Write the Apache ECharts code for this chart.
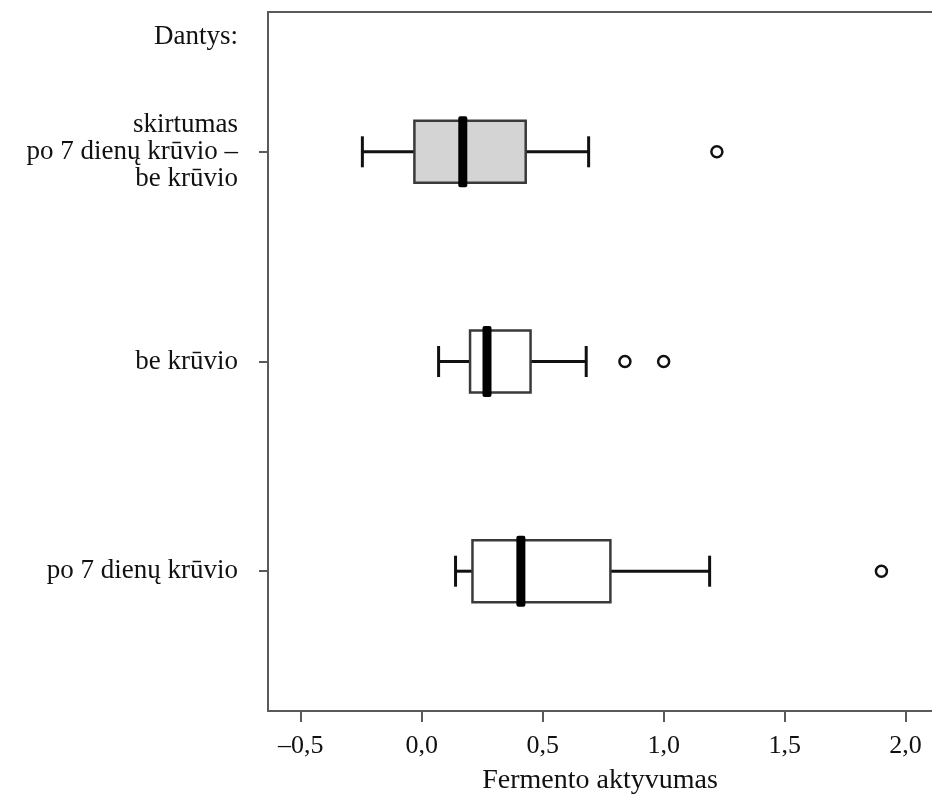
<!DOCTYPE html>
<html>
<head>
<meta charset="utf-8">
<script src="https://cdn.jsdelivr.net/npm/echarts@6/dist/echarts.min.js"></script>
<style>
  html, body { margin: 0; padding: 0; background: #fff; }
  #box-chart { width: 932px; height: 795px; }
</style>
</head>
<body>
<div id="box-chart"></div>
<script>
// groups, bottom to top
const groups = ['po 7 dienų krūvio', 'be krūvio', 'skirtumas\npo 7 dienų krūvio –\nbe krūvio']
// [min whisker, Q1, median, Q3, max whisker]
const boxStats = [
  [0.14, 0.21, 0.41, 0.78, 1.19],
  [0.07, 0.20, 0.27, 0.45, 0.68],
  [-0.245, -0.03, 0.17, 0.43, 0.69]
]
const outliers = [[1.90], [0.84, 1.00], [1.22]]
const xTicks = [-0.5, 0, 0.5, 1.0, 1.5, 2.0]
const boxFills = ['#ffffff', '#ffffff', '#d4d4d4']

// spread the groups along the axis with empty slots between them
const slots = ['', '']
groups.forEach(g => { slots.push(g, '', '') })

const fmt = v => (v < 0 ? '–' : '') + Math.abs(v).toFixed(1).replace('.', ',')
const serif = '"Liberation Serif", "DejaVu Serif", serif'
const axisColor = '#5a5a5a'

const myChart = echarts.init(document.getElementById('box-chart'))
myChart.setOption({
  animation: false,
  textStyle: { fontFamily: serif },
  grid: [{
    left: 268,
    right: 0,
    top: 12,
    bottom: 84,
    outerBoundsMode: 'none'
  }],
  xAxis: [{
    type: 'value',
    min: -0.635,
    max: 2.109,
    name: 'Fermento aktyvumas',
    nameLocation: 'middle',
    nameGap: 56,
    nameTextStyle: { fontFamily: serif, fontSize: 28, color: '#111' },
    axisLine: { show: true, onZero: false, lineStyle: { color: axisColor, width: 2 } },
    axisTick: { show: true, length: 11, lineStyle: { color: axisColor, width: 2 }, customValues: xTicks },
    axisLabel: {
      customValues: xTicks,
      formatter: fmt,
      margin: 22,
      fontFamily: serif,
      fontSize: 26,
      color: '#111'
    },
    splitLine: { show: false }
  }, {
    // top frame line
    type: 'value',
    position: 'top',
    min: -0.635,
    max: 2.109,
    axisLine: { show: true, onZero: false, lineStyle: { color: axisColor, width: 2 } },
    axisTick: { show: false },
    axisLabel: { show: false },
    splitLine: { show: false }
  }],
  yAxis: [{
    type: 'category',
    data: slots,
    boundaryGap: false,
    name: 'Dantys:',
    nameLocation: 'end',
    nameGap: -25,
    nameTextStyle: {
      fontFamily: serif,
      fontSize: 27,
      color: '#111',
      align: 'right',
      verticalAlign: 'middle',
      padding: [0, 30, 0, 0]
    },
    axisLine: { onZero: false, lineStyle: { color: axisColor, width: 2 } },
    axisTick: {
      length: 9,
      interval: (i, v) => v !== '',
      lineStyle: { color: axisColor, width: 2 }
    },
    axisLabel: {
      interval: (i, v) => v !== '',
      margin: 30,
      fontFamily: serif,
      fontSize: 27,
      lineHeight: 27,
      align: 'right',
      color: '#111'
    },
    splitLine: { show: false }
  }],
  series: [{
    type: 'custom',
    name: 'box',
    encode: { x: [1, 2, 3, 4, 5], y: 0 },
    data: boxStats.map((s, i) => [groups[i], ...s]),
    renderItem: (params, api) => {
      const cy = api.coord([0, api.value(0)])[1]
      const px = d => api.coord([api.value(d), api.value(0)])[0]
      const lo = px(1), q1 = px(2), med = px(3), q3 = px(4), hi = px(5)
      const boxH = 62, capH = 31, medH = 71, medW = 9
      const whisker = { stroke: '#111', lineWidth: 3 }
      return {
        type: 'group',
        children: [
          { type: 'line', shape: { x1: lo, y1: cy, x2: q1, y2: cy }, style: whisker },
          { type: 'line', shape: { x1: q3, y1: cy, x2: hi, y2: cy }, style: whisker },
          { type: 'line', shape: { x1: lo, y1: cy - capH / 2, x2: lo, y2: cy + capH / 2 }, style: whisker },
          { type: 'line', shape: { x1: hi, y1: cy - capH / 2, x2: hi, y2: cy + capH / 2 }, style: whisker },
          {
            type: 'rect',
            shape: { x: q1, y: cy - boxH / 2, width: q3 - q1, height: boxH },
            style: { fill: boxFills[params.dataIndex], stroke: '#3a3a3a', lineWidth: 2.5 }
          },
          {
            type: 'rect',
            shape: { x: med - medW / 2, y: cy - medH / 2, width: medW, height: medH, r: 2 },
            style: { fill: '#000' }
          }
        ]
      }
    }
  }, {
    type: 'scatter',
    name: 'outliers',
    symbol: 'circle',
    symbolSize: 11,
    itemStyle: { color: '#fff', borderColor: '#111', borderWidth: 2.5, opacity: 1 },
    data: outliers.flatMap((vals, i) => vals.map(v => [v, groups[i]]))
  }]
})

window.addEventListener('resize', () => { myChart.resize() })
</script>
</body>
</html>
